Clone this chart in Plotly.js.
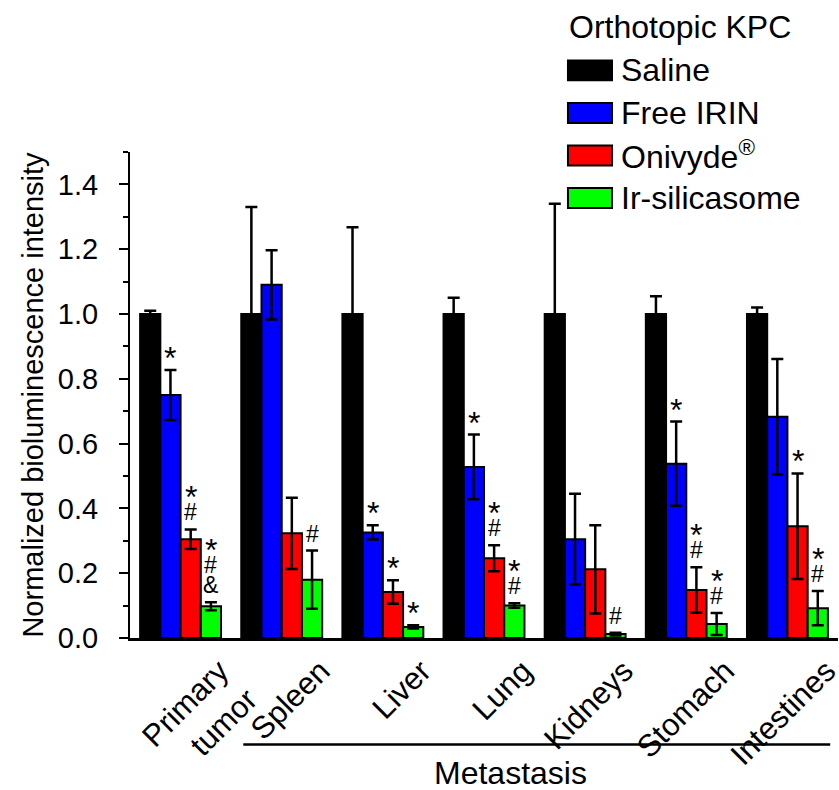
<!DOCTYPE html>
<html><head><meta charset="utf-8">
<script src="https://cdn.plot.ly/plotly-3.0.1.min.js"></script>
<style>html,body{margin:0;padding:0;background:#fff}</style>
</head><body><div id="chart" style="width:839px;height:790px"></div>
<script>
var categories = ["Primary<br>tumor","Spleen","Liver","Lung","Kidneys","Stomach","Intestines"];
var seriesNames = ["Saline","Free IRIN","Onivyde<sup>®</sup>","Ir-silicasome"];
var legendTitle = "Orthotopic KPC";
var groupLabel = "Metastasis";
var salineVals = [1.0, 1.0, 1.0, 1.0, 1.0, 1.0, 1.0];
var salineErr  = [0.01, 0.33, 0.268, 0.05, 0.34, 0.055, 0.02];
var freeVals   = [0.75, 1.09, 0.326, 0.528, 0.305, 0.538, 0.683];
var freeErr    = [0.077, 0.107, 0.022, 0.10, 0.14, 0.13, 0.178];
var oniVals    = [0.305, 0.323, 0.142, 0.246, 0.212, 0.148, 0.345];
var oniErr     = [0.03, 0.11, 0.036, 0.04, 0.136, 0.07, 0.163];
var irVals     = [0.098, 0.18, 0.034, 0.10, 0.012, 0.043, 0.092];
var irErr      = [0.012, 0.09, 0.005, 0.007, 0.004, 0.034, 0.053];
var colors = ["#000000","#0000ff","#ff0000","#00ff00"];
// significance marks per bar, listed top-to-bottom
var freeMarks = [["*"],[],["*"],["*"],[],["*"],[]];
var oniMarks  = [["*","#"],[],["*"],["*","#"],[],["*","#"],["*"]];
var irMarks   = [["*","#","&"],["#"],["*"],["*","#"],["#"],["*","#"],["*","#"]];

var FONT = "Liberation Sans, Arial, sans-serif";
var vals = [salineVals, freeVals, oniVals, irVals];
var errs = [salineErr, freeErr, oniErr, irErr];
function makeTraces(){ return vals.map(function(v, i){
  return {
    type:"bar", x:categories, y:v, name:seriesNames[i], showlegend:false,
    marker:{color:colors[i], line:{color:"#000", width:2}},
    error_y:{type:"data", array:errs[i], visible:true, color:"#000", thickness:2.5, width:6}
  };
});}

function esc(t){ return t.replace(/&/g, "&amp;"); }
// glyph metrics (px) for stacking the significance marks
var symSize = {"*":32, "#":23, "&":23};
var symBoxOff = {"*":20, "#":10, "&":10};
var symHeight = {"*":11, "#":16, "&":16};
function makeLayout(opt){
  var annotations = [];
  var shapes = [];
  var markSets = [null, freeMarks, oniMarks, irMarks];
  var offsets = [-0.3,-0.1,0.1,0.3];
  for (var s=1; s<4; s++){
    for (var c=0; c<categories.length; c++){
      var m = markSets[s][c];
      var top = vals[s][c] + errs[s][c];
      var cur = 12;
      for (var k=0; k<m.length; k++){
        var sym = m[m.length-1-k]; // bottom-up
        annotations.push({x:c+offsets[s], y:top, xref:"x", yref:"y", text:esc(sym), showarrow:false,
          yanchor:"bottom", xanchor:"center", yshift: cur - symBoxOff[sym],
          font:{family:FONT, size:symSize[sym], color:"#000"}});
        cur += symHeight[sym] + 4;
      }
    }
  }
  annotations.push({xref:"paper", yref:"paper", x:0.537, y:-0.236, yanchor:"top", xanchor:"center",
    text:groupLabel, showarrow:false, font:{family:FONT, size:32, color:"#000"}});
  shapes.push({type:"line", xref:"paper", yref:"paper", x0:0.16, x1:0.989, y0:-0.219, y1:-0.219,
    line:{color:"#000", width:2.5}});
  var PH = 487.5;
  annotations.push({xref:"paper", yref:"paper", x:0.617, y:1.258, xanchor:"left", yanchor:"middle",
    text:legendTitle, showarrow:false, font:{family:FONT, size:32, color:"#000"}});
  seriesNames.forEach(function(n, i){
    var yc = 1.168 - i*42.7/PH;
    shapes.push({type:"rect", xref:"paper", yref:"paper", x0:0.6186, x1:0.6808,
      y0:yc-10/PH, y1:yc+10/PH, fillcolor:colors[i], line:{color:"#000", width:2}});
    annotations.push({xref:"paper", yref:"paper", x:0.690, y:yc, xanchor:"left", yanchor:"middle",
      text:n, showarrow:false, font:{family:FONT, size:32, color:"#000"}});
  });
  var L = {
    width:839, height:790,
    margin:{l:130, r:1, t:152, b:152, autoexpand:false},
    paper_bgcolor:"#fff", plot_bgcolor:"#fff",
    font:{family:FONT, color:"#000"},
    barmode:"group", bargap:0.2, bargroupgap:0,
    showlegend:false,
    xaxis:{type:"category", range:[-0.5,6.5], showline:true, linecolor:"#000", linewidth:2.5,
      ticks:"", tickangle:-45, tickfont:{family:FONT, size:31, color:"#000"},
      showgrid:false, zeroline:false},
    yaxis:{range:[0,1.5], showline:true, linecolor:"#000", linewidth:2.5, ticks:"outside", ticklen:9,
      tickwidth:2, tickcolor:"#000", tickmode:"linear", tick0:0, dtick:0.2, tickformat:".1f",
      ticksuffix:"\u2002",
      tickfont:{family:FONT, size:29, color:"#000"}, showgrid:false, zeroline:false,
      title:{text:"Normalized bioluminescence intensity", font:{family:FONT, size:29, color:"#000"}, standoff:6}},
    shapes:shapes,
    annotations:annotations
  };
  if (opt.shift) L.xaxis.ticklabelshift = 39;
  if (opt.minor) L.yaxis.minor = {dtick:0.1, tick0:0, ticks:"outside", ticklen:5, tickwidth:2, tickcolor:"#000", showgrid:false};
  return L;
}
var attempts = [{shift:1, minor:1}, {shift:1}, {minor:1}, {}];
var gd = document.getElementById("chart");
for (var a=0; a<attempts.length; a++){
  try { Plotly.newPlot(gd, makeTraces(), makeLayout(attempts[a]), {displayModeBar:false, staticPlot:true}); break; }
  catch(e){ try { Plotly.purge(gd); } catch(e2){} gd.innerHTML = ""; }
}
</script></body></html>
